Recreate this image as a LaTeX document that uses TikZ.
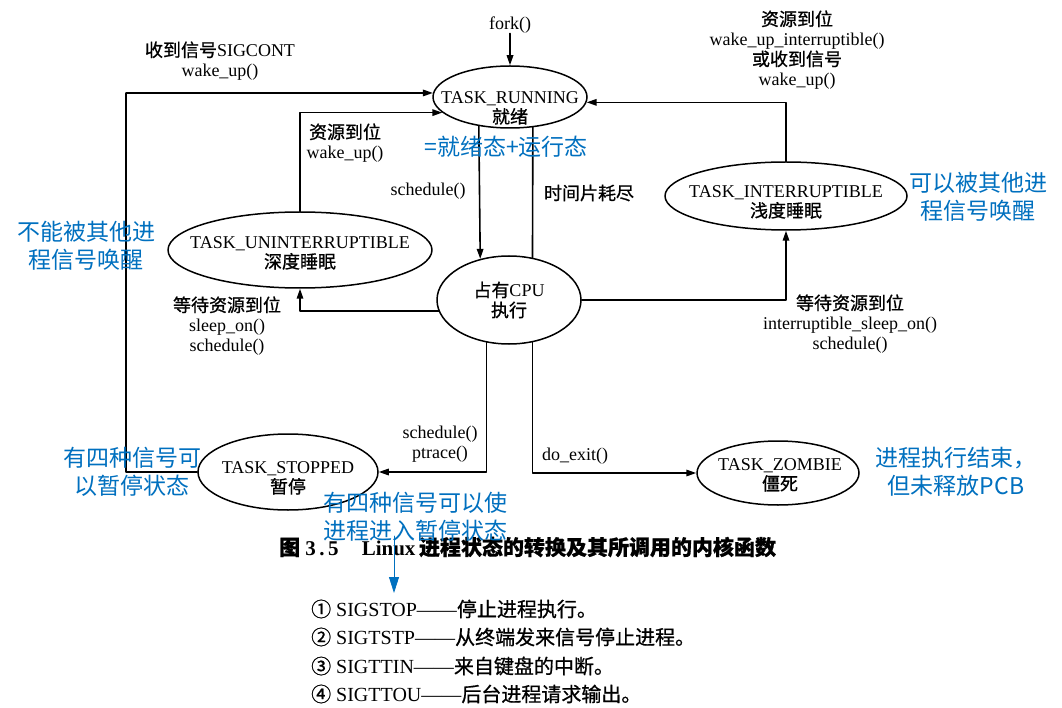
\documentclass[tikz,border=0pt]{standalone}
\usepackage{fontspec}
\setmainfont{Liberation Serif}
\newfontfamily\cjk[FakeBold=0.8]{Noto Sans CJK SC}
\newfontfamily\cjknote{Noto Sans CJK SC}
\usetikzlibrary{arrows,arrows.meta,shapes.geometric}
\definecolor{noteblue}{rgb}{0,0.44,0.75}

\begin{document}
\begin{tikzpicture}[line cap=round,line join=round,>={Triangle[length=10pt,width=6.5pt]},x=1pt,y=-1pt,
state/.style={ellipse,draw,line width=1.5pt,inner sep=0pt},
lbl/.style={align=center,inner sep=0pt,font=\fontsize{18}{20}\selectfont},
note/.style={align=center,inner sep=0pt,text=noteblue,font=\fontsize{23}{28}\selectfont\cjknote},
sig/.style={anchor=west,inner sep=0pt,font=\fontsize{20}{22}\selectfont},
link/.style={line width=1.6pt}]
\useasboundingbox (0,0) rectangle (1062,708);
\fill[white] (0,0) rectangle (1062,708);
\node[state,minimum width=154pt,minimum height=62pt] (run) at (510,97) {};
\node[state,minimum width=264pt,minimum height=76pt] (unint) at (300,250) {};
\node[state,minimum width=242pt,minimum height=68pt] (int) at (786,196) {};
\node[state,minimum width=144pt,minimum height=88pt] (cpu) at (509,300) {};
\node[state,minimum width=180pt,minimum height=76pt] (stop) at (288,472) {};
\node[state,minimum width=162pt,minimum height=64pt] (zombie) at (778,473) {};
\node[lbl] (runlbl) at (510,108) {TASK\_RUNNING\\{\cjk 就绪}};
\node[lbl] (unintlbl) at (300,253) {TASK\_UNINTERRUPTIBLE\\{\cjk 深度睡眠}};
\node[lbl] (intlbl) at (786,202) {TASK\_INTERRUPTIBLE\\{\cjk 浅度睡眠}};
\node[lbl] (cpulbl) at (509,300) {{\cjk 占有}CPU\\{\cjk 执行}};
\node[lbl] (stoplbl) at (288,478) {TASK\_STOPPED\\{\cjk 暂停}};
\node[lbl] (zomblbl) at (780,475) {TASK\_ZOMBIE\\{\cjk 僵死}};
\node[lbl] (fork) at (510,25) {fork()};
\node[lbl] (sigcont) at (220,61) {{\cjk 收到信号}SIGCONT\\wake\_up()};
\node[lbl] (wakeup) at (345,143) {{\cjk 资源到位}\\wake\_up()};
\node[lbl] (sched) at (428,191) {schedule()};
\node[lbl] (slice) at (589,193) {\cjk 时间片耗尽};
\node[lbl] (intwake) at (797,50) {{\cjk 资源到位}\\wake\_up\_interruptible()\\{\cjk 或收到信号}\\wake\_up()};
\node[lbl] (sleepa) at (227,326) {{\cjk 等待资源到位}\\sleep\_on()\\schedule()};
\node[lbl] (sleepb) at (850,324) {{\cjk 等待资源到位}\\interruptible\_sleep\_on()\\schedule()};
\node[lbl] (ptrace) at (440,444) {schedule()\\ptrace()};
\node[lbl] (doexit) at (575,456) {do\_exit()};
\draw [link,->] (fork.south) -- (run.north);
\draw [link,->] (stop.west) -| (126,93) -- (run.177);
\draw [link,->] (unint.north) |- (run.193.6);
\draw [link,->] (int.north) |- (run.-4.5);
\draw [link,->] (run.223.6) -- (cpu.125.7);
\draw [link] (cpu.61.1) -- (run.-53.5);
\draw [link,->] (cpu.189) -| (unint.south);
\draw [link,->] (cpu.east) -| (int.south);
\draw [link,->] (cpu.242.3) |- (stop.east);
\draw [link,->] (cpu.-61.1) |- (zombie.west);
\node[note] (notea) at (86,246) {不能被其他进\\程信号唤醒};
\node[note] (noteb) at (506,147) {=就绪态+运行态};
\node[note] (notec) at (978,197) {可以被其他进\\程信号唤醒};
\node[note] (noted) at (132,472) {有四种信号可\\以暂停状态};
\node[note] (notef) at (956,472) {进程执行结束，\\但未释放PCB};
\node[lbl,anchor=west,font=\fontsize{21}{22}\selectfont\bfseries] (caption) at (279,547) {{\cjk 图}\ 3\,.\,5\hspace{1.1em}Linux\,{\cjk 进程状态的转换及其所调用的内核函数}};
\node[note] (notee) at (415,517) {有四种信号可以使\\进程进入暂停状态};
\coordinate (arrtop) at (394,536);
\coordinate (arrend) at (394,593);
\draw [noteblue,line width=0.8pt,-{Triangle[width=10pt,length=16pt]}] (arrtop) -- (arrend);
\node[sig] (sigone) at (311,609) {{\cjk ①} SIGSTOP——{\cjk 停止进程执行。}};
\node[sig] (sigtwo) at (311,637) {{\cjk ②} SIGTSTP——{\cjk 从终端发来信号停止进程。}};
\node[sig] (sigthree) at (311,666) {{\cjk ③} SIGTTIN——{\cjk 来自键盘的中断。}};
\node[sig] (sigfour) at (311,694) {{\cjk ④} SIGTTOU——{\cjk 后台进程请求输出。}};
\end{tikzpicture}
\end{document}
